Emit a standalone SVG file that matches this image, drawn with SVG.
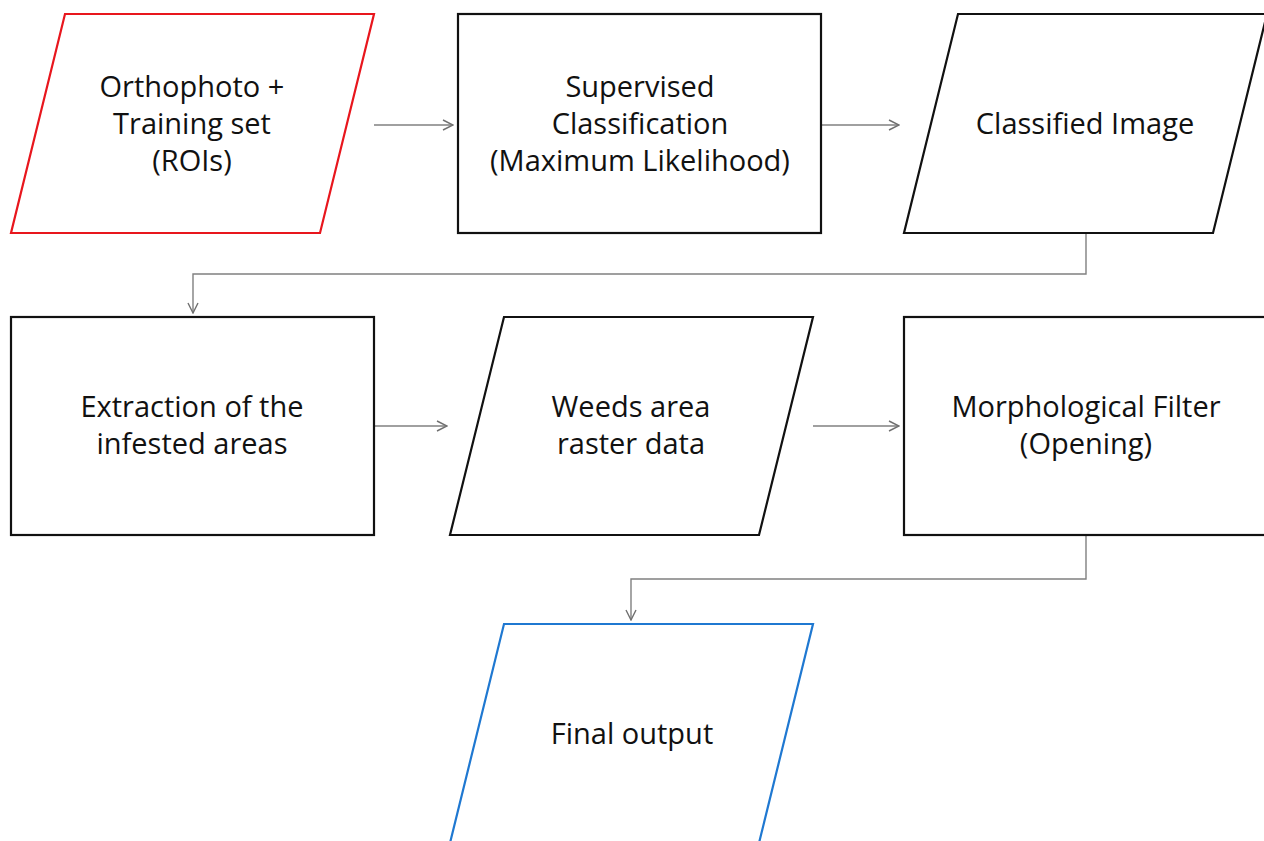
<svg xmlns="http://www.w3.org/2000/svg" width="1264" height="841" viewBox="0 0 1264 841">
<style>
.n{fill:#fff;stroke:#111;stroke-width:2.2}
.t{font-family:"Open Sans",sans-serif;font-size:29px;fill:#111;text-anchor:middle}
.c{fill:none;stroke:#808080;stroke-width:1.4}
</style>
<defs>
<marker id="a" viewBox="0 0 12 12" refX="11" refY="6" markerWidth="12" markerHeight="12" markerUnits="userSpaceOnUse" orient="auto">
<path d="M1,1 L11,6 L1,11" fill="none" stroke="#707070" stroke-width="1.4"/>
</marker>
</defs>
<rect width="1264" height="841" fill="#fff"/>
<g id="connectors">
<path class="c" d="M374,125 H453" marker-end="url(#a)"/>
<path class="c" d="M821,125 H899" marker-end="url(#a)"/>
<path class="c" d="M1086,233 V274 H193 V313" marker-end="url(#a)"/>
<path class="c" d="M374,426 H447" marker-end="url(#a)"/>
<path class="c" d="M813,426 H899" marker-end="url(#a)"/>
<path class="c" d="M1086,535 V579 H631 V620" marker-end="url(#a)"/>
</g>
<g id="n1">
<polygon points="65,14 374,14 320,233 11,233" class="n" style="stroke:#e8161d"/>
<text class="t" x="192" y="97">Orthophoto +</text>
<text class="t" x="192" y="134">Training set</text>
<text class="t" x="192" y="171">(ROIs)</text>
</g>
<g id="n2">
<rect x="458" y="14" width="363" height="219" class="n"/>
<text class="t" x="640" y="97">Supervised</text>
<text class="t" x="640" y="134">Classification</text>
<text class="t" x="640" y="171">(Maximum Likelihood)</text>
</g>
<g id="n3">
<polygon points="958,14 1267,14 1213,233 904,233" class="n"/>
<text class="t" x="1085" y="134">Classified Image</text>
</g>
<g id="n4">
<rect x="11" y="317" width="363" height="218" class="n"/>
<text class="t" x="192" y="417">Extraction of the</text>
<text class="t" x="192" y="454">infested areas</text>
</g>
<g id="n5">
<polygon points="504,317 813,317 759,535 450,535" class="n"/>
<text class="t" x="631" y="417">Weeds area</text>
<text class="t" x="631" y="454">raster data</text>
</g>
<g id="n6">
<rect x="904" y="317" width="364" height="218" class="n"/>
<text class="t" x="1086" y="417">Morphological Filter</text>
<text class="t" x="1086" y="454">(Opening)</text>
</g>
<g id="n7">
<polygon points="504,624 813,624 759,843 450,843" class="n" style="stroke:#1f78d1"/>
<text class="t" x="632" y="744">Final output</text>
</g>
</svg>
